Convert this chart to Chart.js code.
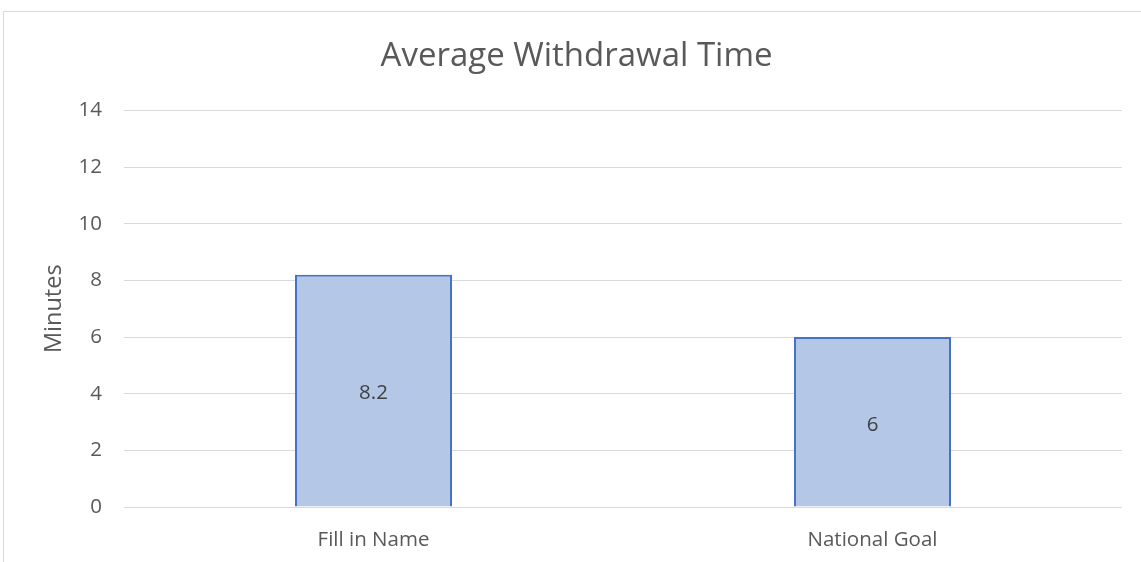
<!DOCTYPE html>
<html>
<head>
<meta charset="utf-8">
<script src="https://cdn.jsdelivr.net/npm/chart.js@4/dist/chart.umd.min.js"></script>
<style>
  html, body { margin: 0; padding: 0; background: #ffffff; overflow: hidden; width: 1141px; height: 562px; }
  #frame { position: absolute; left: 3px; top: 11px; width: 1180px; height: 600px; border: 1px solid #d9d9d9; box-sizing: border-box; }
  #wrap { position: absolute; left: 4px; top: 12px; width: 1145px; height: 550px; }
</style>
</head>
<body>
<div id="frame"></div>
<div id="wrap"><canvas id="c" width="1145" height="550"></canvas></div>
<script>
const categories = ["Fill in Name", "National Goal"];
const values = [8.2, 6];
const yTicks = [0, 2, 4, 6, 8, 10, 12, 14];
const chartTitle = "Average Withdrawal Time";
const yTitle = "Minutes";

const FONT = "'Open Sans', 'DejaVu Sans', sans-serif";

const dataLabels = {
  id: 'dataLabels',
  afterDatasetsDraw(chart) {
    const ctx = chart.ctx;
    ctx.save();
    ctx.font = "20.5px " + FONT;
    ctx.fillStyle = "#404040";
    ctx.textAlign = "center";
    ctx.textBaseline = "middle";
    chart.data.datasets.forEach((ds, i) => {
      const meta = chart.getDatasetMeta(i);
      meta.data.forEach((bar, j) => {
        const p = bar.getProps(['x', 'y', 'base'], true);
        ctx.fillText(String(ds.data[j]), p.x, (p.y + p.base) / 2 + 3);
      });
    });
    ctx.restore();
  }
};

new Chart(document.getElementById('c'), {
  type: 'bar',
  data: {
    labels: categories,
    datasets: [{
      data: values,
      backgroundColor: '#B4C7E7',
      borderColor: '#4472C4',
      borderWidth: 2,
      borderSkipped: 'bottom',
      categoryPercentage: 1,
      barPercentage: 0.3146
    }]
  },
  options: {
    responsive: false,
    animation: false,
    devicePixelRatio: 1,
    layout: { padding: { left: 27, right: 27, top: 0, bottom: 0 } },
    plugins: {
      legend: { display: false },
      tooltip: { enabled: false },
      title: {
        display: true,
        text: chartTitle,
        color: '#595959',
        font: { family: FONT, size: 33, weight: 'normal' },
        padding: { top: 25, bottom: 33.9 }
      }
    },
    scales: {
      x: {
        grid: { display: false },
        border: { display: false },
        ticks: { color: '#595959', font: { family: FONT, size: 20.5 }, padding: 13 },
        afterFit(s) { s.height = 55; }
      },
      y: {
        min: 0,
        max: 14,
        afterBuildTicks(s) { s.ticks = yTicks.map(v => ({ value: v })); },
        grid: { color: '#d9d9d9', lineWidth: 1, drawTicks: false },
        border: { display: false },
        ticks: { color: '#595959', font: { family: FONT, size: 20.5 }, padding: 22 },
        title: {
          display: true,
          text: yTitle,
          color: '#595959',
          font: { family: FONT, size: 23.5 },
          padding: { top: 9, bottom: 0 }
        },
        afterFit(s) { s.width = 93; }
      }
    }
  },
  plugins: [dataLabels]
});
</script>
</body>
</html>
